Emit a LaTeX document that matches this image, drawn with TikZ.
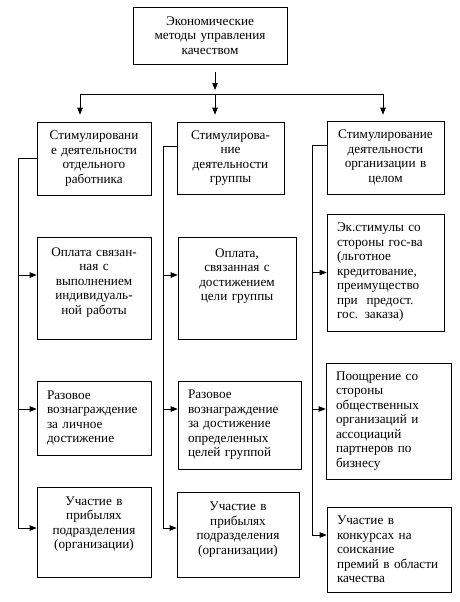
\documentclass[tikz,border=0pt]{standalone}
\usepackage{fontspec}
\setmainfont{Liberation Serif}
\usetikzlibrary{arrows.meta}

\begin{document}
\begin{tikzpicture}[x=1pt,y=-1pt,
  box/.style={draw, line width=0.7pt, inner xsep=4pt, align=center, font=\fontsize{13.2}{14.5}\selectfont},
  lbox/.style={box, inner xsep=10pt, align=left},
  arr/.style={-{Triangle[length=7pt,width=5.5pt]}, line width=0.7pt},
  conn/.style={line width=0.7pt}]
\useasboundingbox (0,0) rectangle (460,602);

\node[box, text width=146pt, minimum height=57pt] (top) at (210,35.5) {Экономические\\методы управления\\качеством};

\node[box, text width=106pt, minimum height=73pt] (b1) at (94,158.5) {Стимулировани\\е деятельности\\отдельного\\работника};
\node[box, text width=99pt, minimum height=72pt] (b2) at (230.5,158) {Стимулирова-\\ние\\деятельности\\группы};
\node[box, text width=109pt, minimum height=73pt] (b3) at (385.5,157.5) {Стимулирование\\деятельности\\организации в\\целом};

% first column
\node[box, text width=106pt, minimum height=102pt] (b1b) at (94,288) {Оплата связан-\\ная с\\выполнением\\индивидуаль-\\ной работы\\\mbox{}};
\node[lbox, text width=94pt, minimum height=74pt] (b1c) at (94,418) {Разовое\\вознаграждение\\за личное\\достижение};
\node[box, text width=106pt, minimum height=90pt] (b1d) at (94,532) {Участие в\\прибылях\\подразделения\\(организации)\\[4pt]\mbox{}};

% second column
\node[box, text width=110pt, minimum height=102pt] (b2b) at (237,288) {Оплата,\\связанная с\\достижением\\цели группы\\[12pt]\mbox{}};
\node[lbox, text width=103pt, minimum height=88pt] (b2c) at (239.5,425) {Разовое\\вознаграждение\\за достижение\\определенных\\целей группой};
\node[box, text width=114pt, minimum height=85pt] (b2d) at (238,534.5) {Участие в\\прибылях\\подразделения\\(организации)\\[-2pt]\mbox{}};

% third column
\node[lbox, text width=97pt, minimum height=117pt] (b3b) at (385.5,272.5) {Эк.стимулы со\\стороны гос-ва\\(льготное\\кредитование,\\преимущество\\при\ \ предост.\\гос. заказа)};
\node[lbox, text width=105pt, minimum height=116pt] (b3c) at (388.5,421) {Поощрение со\\стороны\\общественных\\организаций и\\ассоциаций\\партнеров по\\бизнесу};
\node[lbox, text width=104pt, minimum height=85pt] (b3d) at (389,549.5) {Участие в\\конкурсах на\\соискание\\премий в области\\качества};

\coordinate (s1) at (80,94);
\coordinate (s2) at (215,94);
\coordinate (s3) at (383,94);
\coordinate (c1) at (18,528);
\coordinate (c2) at (163,528);
\coordinate (c3) at (312,535);

\draw[arr] ([yshift=-8pt]top.south -| s2) -- ([yshift=4pt]s2);
\draw[conn] (s1) -- (s3);
\draw[arr] (s1) -- ([yshift=7pt]b1.north -| s1);
\draw[arr] (s2) -- ([yshift=7pt]b2.north -| s2);
\draw[arr] (s3) -- ([yshift=6pt]b3.north -| s3);

\draw[conn] (b1.west) -| (c1);
\draw[arr] ([yshift=13pt]b1b.west -| c1) -- ([yshift=13pt]b1b.west);
\draw[arr] ([yshift=9pt]b1c.west -| c1) -- ([yshift=9pt]b1c.west);
\draw[arr] (c1) -- (c1 -| b1d.west);

\draw[conn] ([yshift=12pt]b2.west) -| (c2);
\draw[arr] ([yshift=13pt]b2b.west -| c2) -- ([yshift=13pt]b2b.west);
\draw[arr] ([yshift=16pt]b2c.west -| c2) -- ([yshift=16pt]b2c.west);
\draw[arr] (c2) -- (c2 -| b2d.west);

\draw[conn] ([yshift=12.5pt]b3.west) -| (c3);
\draw[arr] (b3b.west -| c3) -- (b3b.west);
\draw[arr] ([yshift=12pt]b3c.west -| c3) -- ([yshift=12pt]b3c.west);
\draw[arr] (c3) -- (c3 -| b3d.west);
\end{tikzpicture}
\end{document}
